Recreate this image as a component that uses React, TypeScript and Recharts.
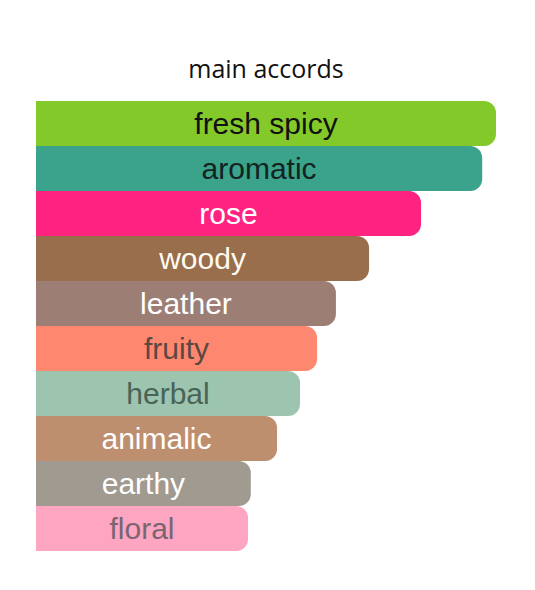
import React from 'react';
import { BarChart, Bar, XAxis, YAxis, Cell, LabelList } from 'recharts';

const accords = ['fresh spicy', 'aromatic', 'rose', 'woody', 'leather', 'fruity', 'herbal', 'animalic', 'earthy', 'floral'];
const strengths = [100, 97, 83.7, 72.4, 65.2, 61.1, 57.4, 52.4, 46.7, 46.1];
const barColors = ['#84C92A', '#3BA28B', '#FE2381', '#986E4C', '#9D7E74', '#FE8770', '#9DC4AE', '#BE8F6F', '#A09A91', '#FEA5C1'];
const textColors = ['#111111', '#13231f', '#ffffff', '#fffaf0', '#ffffff', '#5a4843', '#4a6357', '#ffffff', '#ffffff', '#7a6570'];
const title = 'main accords';

const data = accords.map((name, i) => ({ name, value: strengths[i], idx: i }));

const renderLabel = (props: any) => {
  const { x, y, width, height, index, value } = props;
  const cx = Number(x) + Number(width) / 2;
  const cy = Number(y) + Number(height) / 2;
  return (
    <text
      x={cx}
      y={cy + 10}
      textAnchor="middle"
      fill={textColors[index]}
      fontFamily="'Liberation Sans', Arial, sans-serif"
      fontSize={30}
    >
      {value}
    </text>
  );
};

export default function App() {
  return (
    <div style={{ position: 'absolute', left: 0, top: 0, width: 535, height: 590, background: '#fff' }}>
      <svg width={535} height={100} style={{ position: 'absolute', left: 0, top: 0 }}>
        <text
          x={266}
          y={78}
          textAnchor="middle"
          fontFamily="'Open Sans', 'Noto Sans', sans-serif"
          fontSize={25}
          fill="#111"
        >
          {title}
        </text>
      </svg>
      <div style={{ position: 'absolute', left: 0, top: 0 }}>
        <BarChart
          width={535}
          height={590}
          data={data}
          layout="vertical"
          margin={{ top: 101, right: 39, bottom: 39, left: 36 }}
          barCategoryGap={0}
        >
          <XAxis type="number" domain={[0, 100]} hide />
          <YAxis type="category" dataKey="name" hide width={0} />
          <Bar dataKey="value" radius={[0, 12, 12, 0]} isAnimationActive={false}>
            {data.map((d, i) => (
              <Cell key={d.name} fill={barColors[i]} />
            ))}
            <LabelList dataKey="name" content={renderLabel} />
          </Bar>
        </BarChart>
      </div>
    </div>
  );
}
